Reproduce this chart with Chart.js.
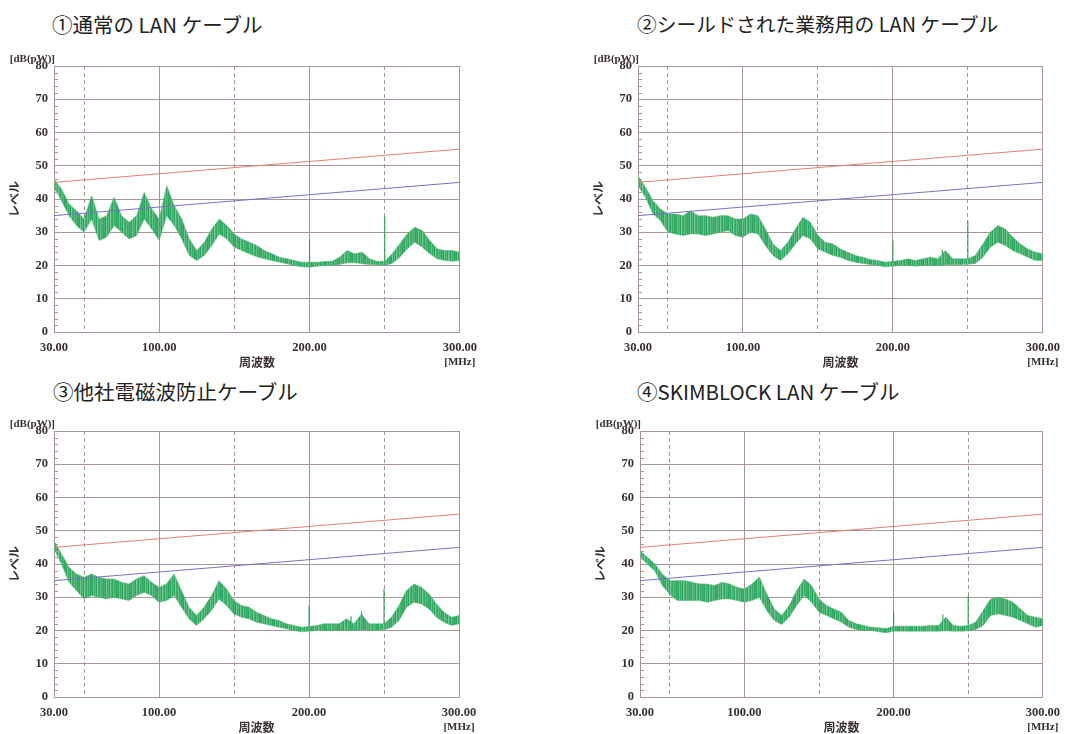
<!DOCTYPE html>
<html lang="ja">
<head>
<meta charset="utf-8">
<title>LAN ケーブル 妨害電力測定</title>
<script src="https://cdn.jsdelivr.net/npm/chart.js"></script>
<style>
    html, body {
        margin: 0;
        padding: 0;
        background: #ffffff;
    }
    body {
        position: relative;
        width: 1068px;
        height: 734px;
        overflow: hidden;
    }
    .panel-title {
        position: absolute;
        font-family: "Noto Sans CJK JP", "Noto Sans", sans-serif;
        font-size: 20.5px;
        line-height: 24px;
        color: #222222;
        white-space: nowrap;
    }
    canvas {
        position: absolute;
    }
</style>
</head>
<body>

<div class="panel-title" style="left:52px; top:12px;">①通常の LAN ケーブル</div>
<div class="panel-title" style="left:637px; top:12px; font-size:19.8px;">②シールドされた業務用の LAN ケーブル</div>
<div class="panel-title" style="left:53px; top:379px;">③他社電磁波防止ケーブル</div>
<div class="panel-title" style="left:637px; top:379px;">④SKIMBLOCK LAN ケーブル</div>

<canvas id="chart-1" width="485" height="320" style="left:0px; top:48px;"></canvas>
<canvas id="chart-2" width="484" height="320" style="left:584px; top:48px;"></canvas>
<canvas id="chart-3" width="485" height="320" style="left:0px; top:413px;"></canvas>
<canvas id="chart-4" width="482" height="320" style="left:586px; top:413px;"></canvas>

<script>
// 周波数 [MHz]（5 MHz 毎に読み取った包絡線）
const FREQ = [30, 35, 40, 45, 50, 55, 60, 65, 70, 75,
    80, 85, 90, 95, 100, 105, 110, 115, 120, 125,
    130, 135, 140, 145, 150, 155, 160, 165, 170, 175,
    180, 185, 190, 195, 200, 205, 210, 215, 220, 225,
    230, 235, 240, 245, 250, 255, 260, 265, 270, 275,
    280, 285, 290, 295, 300];

const X_TICKS = [30, 50, 100, 150, 200, 250, 300];
const X_LABELED = [30, 100, 200, 300];
const X_DASHED = [50, 150, 250];

// 限度値 [dB(pW)]
const LIMIT_FREQ = [30, 300];
const LIMIT_QP = [45, 55];
const LIMIT_AV = [35, 45];

// ① 通常の LAN ケーブル
const P1_HI = [46, 43, 38.5, 36.5, 34, 41, 34, 35, 40.5, 35,
    33, 35, 42, 37, 34, 44, 38, 34, 28, 24.5,
    27, 31, 34, 32, 29.5, 28, 27, 26, 24.5, 23.5,
    22.5, 22, 21.5, 21, 21, 21, 21.2, 21.3, 22.5, 24.5,
    23.5, 24, 22, 21.2, 21.3, 23.5, 26.5, 29.5, 31.5, 30.5,
    27.5, 25, 24.5, 24.5, 24];
const P1_LO = [43.5, 39.5, 35, 32, 30, 34, 27.5, 28.5, 32, 30,
    28, 29, 34, 31, 27.5, 35, 32, 28, 23, 21.5,
    23, 26, 29.5, 28, 25.5, 24.5, 23.5, 22.6, 22, 21.5,
    21, 20.5, 20, 19.6, 19.5, 19.8, 20, 20.1, 20.3, 20.8,
    20.8, 20.5, 20.3, 20.2, 20.1, 20.6, 22.5, 25, 27, 25.5,
    23.5, 22, 21.5, 21.3, 21.5];
const P1_SPIKES = [[200, 20, 27.5], [250, 20.5, 35]];

// ② シールドされた業務用の LAN ケーブル
const P2_HI = [47, 43.5, 39.5, 37, 35.5, 35.5, 35, 36.5, 35, 35,
    34.5, 35, 35, 34, 34, 35.5, 35, 31, 26.5, 24.5,
    27, 31, 34.5, 33, 29, 27, 26.5, 25, 24, 23,
    22.5, 21.8, 21.5, 21, 21.3, 21.5, 22, 21.5, 22, 22.5,
    22, 24.5, 22, 22, 22, 23, 26.5, 30, 32, 31,
    28.5, 26.5, 25, 24, 23.5];
const P2_LO = [44, 40.5, 35.5, 33.5, 30, 29.5, 29, 29.5, 29.5, 29,
    29.5, 30, 30.5, 29, 28.5, 30, 29.5, 26, 23, 21.5,
    23.5, 26.5, 29, 28, 25, 24, 23, 22.5, 21.5, 21,
    20.6, 20.3, 20, 19.6, 19.8, 20, 20, 19.8, 20, 20,
    20, 20.2, 20.2, 20.3, 20.4, 20.6, 22.5, 25.5, 27, 26,
    24.5, 23.5, 22.5, 21.5, 21.5];
const P2_SPIKES = [[200, 20, 27.5], [233, 20.5, 24.8], [250, 20.5, 33.5]];

// ③ 他社電磁波防止ケーブル
const P3_HI = [47, 43, 39, 37, 36, 37, 36, 35.5, 35.5, 34.5,
    34, 35.5, 36.5, 34.5, 33, 34, 37, 32, 27, 24.5,
    27, 30.5, 35, 32.5, 29, 27.5, 27, 25.5, 24.5, 23.5,
    23, 22, 21.5, 21, 21.2, 21.5, 22, 22, 22, 23.5,
    22, 25, 22, 22, 22, 24, 27.5, 32, 34, 33,
    31, 28, 25.5, 24, 24.5];
const P3_LO = [44.5, 40, 34.5, 32, 29.5, 30.5, 30, 29.5, 30, 29.5,
    29, 30.5, 31.5, 30.5, 28.5, 29, 30.5, 27, 23.5, 21.5,
    23.5, 26, 29.5, 27.5, 25, 24, 23.5, 22.5, 22, 21.5,
    21, 20.5, 20, 19.6, 19.8, 20, 20, 20, 20, 20,
    20, 20.2, 20.1, 20.1, 20.2, 21, 23, 27, 28.5, 28,
    26.5, 24, 22.5, 21.5, 22];
const P3_SPIKES = [[200, 20, 27.5], [228, 20.3, 24.3], [235, 20.3, 25.8], [250, 20.5, 32.5]];

// ④ SKIMBLOCK LAN ケーブル
const P4_HI = [44, 42, 40, 37, 35, 35, 35, 34.5, 34, 34,
    33.5, 34.5, 34, 33, 32.5, 34, 36, 31, 26.5, 24.5,
    27.5, 32, 35.5, 33.5, 29.5, 27.5, 26.5, 25.5, 23, 22,
    21.5, 21, 20.8, 20.6, 21.3, 21.3, 21.3, 21.3, 21.3, 21.5,
    21.5, 24, 21.5, 21.3, 21.5, 22.5, 26, 29.5, 30, 29.5,
    28.5, 26.5, 24.5, 24, 23.5];
const P4_LO = [42, 40, 37.8, 33.5, 30.8, 29, 29, 29, 29, 28.5,
    29, 29.5, 29.5, 29, 28.5, 29, 30, 26, 23, 21.8,
    24, 27.5, 30.5, 28.5, 25.5, 24.5, 23.5, 22.5, 21, 20.3,
    20, 20, 19.6, 19.3, 19.8, 19.8, 19.8, 19.8, 19.8, 19.8,
    19.8, 19.9, 19.8, 19.8, 19.9, 20.3, 21.5, 24.5, 25, 24.5,
    24, 23, 22, 21, 21.5];
const P4_SPIKES = [[200, 20, 25.8], [233, 20, 24.8], [250, 20.3, 30.5]];

const GRID_COLOR = '#a99595';
const TEXT_COLOR = '#3a3030';
const TRACE_EDGE = 'rgba(70, 180, 110, 0.5)';
const SPIKE_COLOR = 'rgba(30, 155, 80, 0.85)';
const TICK_FONT = { family: '"Liberation Serif", "DejaVu Serif", serif', size: 12.5, weight: 'bold' };
const AXIS_TITLE_FONT = { family: '"Noto Sans CJK JP", sans-serif', size: 12, weight: 'bold', lineHeight: 1 };

// 測定波形の塗り（縦縞でノイズ感を出す）
const STRIPE_SHADES = ['#42b06c', '#2ea55f', '#6cc58e', '#39ab66', '#57bb7c', '#2aa25b',
    '#79cb98', '#45b16e', '#33a862', '#62c187', '#3cad69', '#50b776', '#2fa660'];

function tracePattern() {
    const c = document.createElement('canvas');
    c.width = STRIPE_SHADES.length;
    c.height = 1;
    const g = c.getContext('2d');
    STRIPE_SHADES.forEach((shade, i) => {
        g.fillStyle = shade;
        g.fillRect(i, 0, 1, 1);
    });
    return g.createPattern(c, 'repeat');
}

const panels = [
    { id: 'chart-1', hi: P1_HI, lo: P1_LO, spikes: P1_SPIKES, padRight: 22 },
    { id: 'chart-2', hi: P2_HI, lo: P2_LO, spikes: P2_SPIKES, padRight: 25 },
    { id: 'chart-3', hi: P3_HI, lo: P3_LO, spikes: P3_SPIKES, padRight: 26 },
    { id: 'chart-4', hi: P4_HI, lo: P4_LO, spikes: P4_SPIKES, padRight: 23 },
];

// 左端の小目盛と単位表示
const axisExtras = {
    id: 'axisExtras',
    afterDraw(chart) {
        const { ctx, chartArea, scales } = chart;
        ctx.save();
        ctx.strokeStyle = GRID_COLOR;
        ctx.lineWidth = 1;
        ctx.beginPath();
        for (let v = 2; v < 80; v += 2) {
            if (v % 10 === 0) continue;
            const y = Math.round(scales.y.getPixelForValue(v)) + 0.5;
            ctx.moveTo(chartArea.left, y);
            ctx.lineTo(chartArea.left + 4, y);
        }
        ctx.stroke();

        ctx.fillStyle = TEXT_COLOR;
        ctx.font = 'bold 11px "Liberation Serif", serif';
        ctx.textBaseline = 'middle';
        ctx.textAlign = 'right';
        ctx.fillText('[dB(pW)]', chartArea.left + 1, chartArea.top - 7);
        ctx.textAlign = 'center';
        ctx.fillText('[MHz]', chartArea.right, chartArea.bottom + 30);
        ctx.restore();
    }
};

function toPoints(xs, ys) {
    return xs.map((x, i) => ({ x: x, y: ys[i] }));
}

function spikePoints(spikes) {
    const pts = [];
    spikes.forEach(([f, base, top]) => {
        pts.push({ x: f, y: base }, { x: f, y: top }, { x: f, y: null });
    });
    return pts;
}

function renderPanel(panel) {
    const ctx = document.getElementById(panel.id).getContext('2d');
    return new Chart(ctx, {
        type: 'line',
        data: {
            datasets: [
                {
                    label: '限度値 QP',
                    data: toPoints(LIMIT_FREQ, LIMIT_QP),
                    borderColor: '#e2806c',
                    borderWidth: 1,
                    pointRadius: 0,
                    fill: false,
                },
                {
                    label: '限度値 AV',
                    data: toPoints(LIMIT_FREQ, LIMIT_AV),
                    borderColor: '#7c72c2',
                    borderWidth: 1,
                    pointRadius: 0,
                    fill: false,
                },
                {
                    label: '測定値 (上)',
                    data: toPoints(FREQ, panel.hi),
                    borderColor: TRACE_EDGE,
                    backgroundColor: tracePattern(),
                    borderWidth: 1,
                    pointRadius: 0,
                    tension: 0,
                    fill: '+1',
                },
                {
                    label: '測定値 (下)',
                    data: toPoints(FREQ, panel.lo),
                    borderColor: TRACE_EDGE,
                    borderWidth: 1,
                    pointRadius: 0,
                    tension: 0,
                    fill: false,
                },
                {
                    label: 'スパイク',
                    data: spikePoints(panel.spikes),
                    borderColor: SPIKE_COLOR,
                    borderWidth: 1.2,
                    pointRadius: 0,
                    spanGaps: false,
                    fill: false,
                },
            ]
        },
        options: {
            responsive: false,
            animation: false,
            layout: {
                padding: { left: 0, top: 18, right: panel.padRight, bottom: 0 }
            },
            plugins: {
                legend: { display: false },
                tooltip: { enabled: false },
            },
            scales: {
                x: {
                    type: 'linear',
                    min: 30,
                    max: 300,
                    afterBuildTicks: (scale) => {
                        scale.ticks = X_TICKS.map(v => ({ value: v }));
                    },
                    afterFit: (scale) => {
                        scale.height = 36;
                    },
                    ticks: {
                        autoSkip: false,
                        maxRotation: 0,
                        padding: 8,
                        color: TEXT_COLOR,
                        font: TICK_FONT,
                        callback: (value) => X_LABELED.includes(value) ? value.toFixed(2) : '',
                    },
                    grid: {
                        color: GRID_COLOR,
                        drawTicks: false,
                    },
                    border: {
                        color: GRID_COLOR,
                        dash: (c) => (c.tick && X_DASHED.includes(c.tick.value)) ? [4, 3] : [],
                    },
                    title: {
                        display: true,
                        text: '周波数',
                        color: TEXT_COLOR,
                        font: AXIS_TITLE_FONT,
                        padding: { top: 0, bottom: 0 },
                    },
                },
                y: {
                    min: 0,
                    max: 80,
                    afterFit: (scale) => {
                        scale.width = 54;
                    },
                    ticks: {
                        stepSize: 10,
                        padding: 6,
                        color: TEXT_COLOR,
                        font: TICK_FONT,
                    },
                    grid: {
                        color: GRID_COLOR,
                        drawTicks: false,
                    },
                    border: {
                        color: GRID_COLOR,
                    },
                    title: {
                        display: true,
                        text: 'レベル',
                        color: TEXT_COLOR,
                        font: AXIS_TITLE_FONT,
                        padding: { top: 8, bottom: 0 },
                    },
                },
            },
        },
        plugins: [axisExtras],
    });
}

panels.forEach(renderPanel);
</script>
</body>
</html>
